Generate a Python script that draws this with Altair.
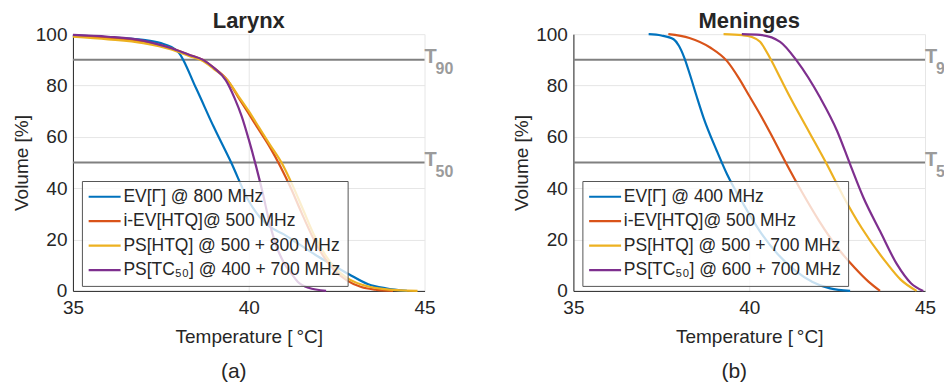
import altair as alt
import pandas as pd

# ---------------- data ----------------
temps_axis = [35, 40, 45]
vol_axis = [0, 20, 40, 60, 80, 100]
thresholds = [90, 50]
threshold_subs = ["90", "50"]

# Larynx
lar_labels = ["EV[Γ] @ 800 MHz", "i-EV[HTQ]@ 500 MHz",
              "PS[HTQ] @ 500 + 800 MHz", "PS[TC₅₀] @ 400 + 700 MHz"]
lar_blue_x = [35, 36, 37, 37.5, 37.8, 38.0, 38.5, 39.0, 39.5, 40.0, 40.3, 40.6, 41.0, 41.4, 41.9, 42.4, 42.85, 43.4, 43.9, 44.5]
lar_blue_y = [99.5, 98.8, 97.8, 96.5, 95, 93, 79, 64, 50, 35, 29, 25, 22, 18.5, 14, 10, 6.5, 2.6, 1, 0]
lar_orange_x = [35, 36, 37, 37.8, 38.3, 38.7, 39.0, 39.4, 39.7, 40.0, 40.3, 40.6, 40.9, 41.2, 41.5, 41.8, 42.1, 42.4, 42.8, 43.2, 43.6, 44.1]
lar_orange_y = [99.3, 98.5, 97, 94.5, 92, 90, 87, 82, 75.5, 69, 62.5, 56, 48.5, 40, 30.5, 21.5, 14, 8.5, 4, 1.5, 0.5, 0]
lar_yellow_x = [35, 36, 37, 37.8, 38.3, 38.7, 39.0, 39.4, 39.7, 40.0, 40.3, 40.6, 40.95, 41.25, 41.55, 41.85, 42.15, 42.45, 42.8, 43.2, 43.8, 44.8]
lar_yellow_y = [99, 98, 96.5, 94, 91.5, 89.5, 86.5, 82, 76, 70, 63.5, 57, 49.5, 41, 31.5, 22, 14.5, 9, 5, 2.5, 0.8, 0]
lar_purple_x = [35, 36, 37, 37.8, 38.3, 38.7, 39.0, 39.35, 39.6, 39.8, 40.0, 40.2, 40.4, 40.6, 40.8, 41.0, 41.2, 41.4, 41.7, 42.2]
lar_purple_y = [99.7, 99, 97.5, 94.5, 92, 90, 87, 82, 75, 68, 59, 49, 38, 26, 17, 11, 7, 3.5, 1.2, 0]

# Meninges
men_labels = ["EV[Γ] @ 400 MHz", "i-EV[HTQ]@ 500 MHz",
              "PS[HTQ] @ 500 + 700 MHz", "PS[TC₅₀] @ 600 + 700 MHz"]
men_blue_x = [37.14, 37.5, 37.85, 38.0, 38.15, 38.32, 38.5, 38.7, 39.08, 39.37, 39.84, 40.3, 40.8, 41.3, 41.8, 42.3, 42.87]
men_blue_y = [100, 99.5, 98, 95.5, 91, 84, 76, 67.5, 54.5, 45.4, 33.7, 23.3, 14.5, 8, 3.5, 1, 0]
men_orange_x = [37.7, 38.3, 38.9, 39.37, 39.7, 40.0, 40.3, 40.6, 41.0, 41.5, 42.0, 42.5, 43.0, 43.4, 43.72]
men_orange_y = [100, 98.5, 94.7, 89.5, 83, 76, 69, 61.5, 51, 38.5, 27, 17, 9, 3.5, 0]
men_yellow_x = [39.27, 39.8, 40.05, 40.31, 40.6, 40.88, 41.16, 41.7, 42.2, 42.67, 43.2, 43.9, 44.3, 44.76]
men_yellow_y = [100, 99.6, 99, 97, 90.5, 83, 75.5, 62, 49.5, 37, 24.5, 11, 4.5, 0]
men_purple_x = [39.79, 40.31, 40.88, 41.36, 42.02, 42.5, 42.87, 43.25, 43.72, 44.2, 44.6, 44.95]
men_purple_y = [100, 99.7, 97, 89.5, 75.2, 62.3, 49.3, 36.3, 23.3, 10.4, 3, 0]

colors = ["#0072BD", "#D95319", "#EDB120", "#7E2F8E"]
FONT = "Liberation Sans"
INK = "#262626"


def build_df(labels, xs_list, ys_list):
    rows = []
    for lab, xs, ys in zip(labels, xs_list, ys_list):
        for x, y in zip(xs, ys):
            rows.append({"series": lab, "temp": x, "vol": y})
    return pd.DataFrame(rows)


def panel(title, sub, labels, xs_list, ys_list, widths):
    df = build_df(labels, xs_list, ys_list)
    xenc = alt.X("temp:Q", scale=alt.Scale(domain=[35, 45], nice=False),
                 axis=alt.Axis(values=temps_axis, title="Temperature [\u2009°C]",
                               labelFlush=False))
    yenc = alt.Y("vol:Q", scale=alt.Scale(domain=[0, 100], nice=False),
                 axis=alt.Axis(values=vol_axis, title="Volume [%]", labelFlush=False))
    leg = alt.Legend(orient="none", legendX=9, legendY=147, title=None,
                     symbolType="M-2.667,0H2.667", symbolSize=144, symbolStrokeWidth=2.5,
                     symbolOffset=7,
                     labelFontSize=17.5, labelFont=FONT, labelColor=INK,
                     rowPadding=5.5, labelOffset=10, padding=7,
                     strokeColor="#555555", fillColor="rgba(255,255,255,0.78)",
                     labelLimit=400)
    lines = alt.Chart(df).mark_line(interpolate="monotone").encode(
        x=xenc, y=yenc,
        color=alt.Color("series:N", scale=alt.Scale(domain=labels, range=colors),
                        sort=labels, legend=leg),
        strokeWidth=alt.StrokeWidth("series:N", scale=alt.Scale(domain=labels, range=widths),
                                    sort=labels, legend=None),
    )
    tdf = pd.DataFrame({"thr": thresholds, "sub": threshold_subs, "xr": [45, 45]})
    rules = alt.Chart(tdf).mark_rule(color="#808080", strokeWidth=2).encode(y="thr:Q")
    tlab = alt.Chart(tdf).mark_text(align="left", baseline="alphabetic", dx=0, dy=3,
                                    fontSize=20, fontWeight="bold", color="#9b9b9b",
                                    font=FONT).encode(
        x="xr:Q", y="thr:Q", text=alt.value("T"))
    tsub = alt.Chart(tdf).mark_text(align="left", baseline="alphabetic", dx=11, dy=14,
                                    fontSize=16, fontWeight="bold", color="#9b9b9b",
                                    font=FONT).encode(
        x="xr:Q", y="thr:Q", text="sub:N")
    subdf = pd.DataFrame({"t": [sub]})
    subt = alt.Chart(subdf).mark_text(fontSize=21, font=FONT, color=INK,
                                      baseline="middle", align="center").encode(
        x=alt.value(161), y=alt.value(338), text="t:N")
    return alt.layer(rules, lines, tlab, tsub, subt).properties(
        width=352, height=257,
        title=alt.Title(title, fontSize=22, fontWeight="bold", font=FONT,
                        color=INK, offset=-7.5),
    )


left = panel("Larynx", "(a)", lar_labels,
             [lar_blue_x, lar_orange_x, lar_yellow_x, lar_purple_x],
             [lar_blue_y, lar_orange_y, lar_yellow_y, lar_purple_y],
             [2.2, 2.2, 1.3, 2.2])
right = panel("Meninges", "(b)", men_labels,
              [men_blue_x, men_orange_x, men_yellow_x, men_purple_x],
              [men_blue_y, men_orange_y, men_yellow_y, men_purple_y],
              [2.2, 2.2, 2.2, 2.2])

chart = alt.hconcat(left, right, spacing=59).resolve_scale(
    color="independent", strokeWidth="independent"
).properties(padding={"left": 4, "top": 1, "right": -10, "bottom": 0}).configure_view(
    stroke=None
).configure_axis(
    grid=True, gridColor="#e6e6e6", gridWidth=1,
    domainColor=INK, domainWidth=1, ticks=False,
    labelFont=FONT, titleFont=FONT, labelFontSize=19, titleFontSize=19,
    labelColor=INK, titleColor=INK, titleFontWeight="normal",
).configure_axisX(labelPadding=8, titlePadding=10).configure_axisY(
    labelPadding=6, titlePadding=4)

chart.save("out.html", embed_options={"renderer": "svg", "actions": False})
